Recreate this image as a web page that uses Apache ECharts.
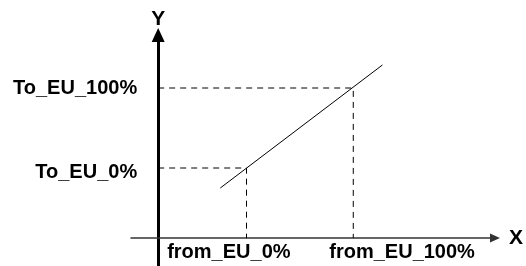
<!DOCTYPE html>
<html>
<head>
<meta charset="utf-8">
<script src="https://cdn.jsdelivr.net/npm/echarts@6/dist/echarts.min.js"></script>
<style>
html,body{margin:0;padding:0;background:#fff;}
#c{width:526px;height:266px;}
</style>
</head>
<body>
<div id="c"></div>
<script>
// Schematic values (axis crossing is the origin)
const xTickNames = ['from_EU_0%', 'from_EU_100%'];
const xTickValues = [91, 201];
const yTickNames = ['To_EU_0%', 'To_EU_100%'];
const yTickValues = [70, 150];
const mapLineX = [64, 231];
const mapLineY = [50, 173];
const xRange = [-28, 347];
const yRange = [-28, 203];

const FONT = "'Liberation Sans', Arial, sans-serif";

const chart = echarts.init(document.getElementById('c'), null, {renderer: 'canvas'});

const guide0 = [[0, yTickValues[0]], [xTickValues[0], yTickValues[0]], [xTickValues[0], 0]];
const guide100 = [[0, yTickValues[1]], [xTickValues[1], yTickValues[1]], [xTickValues[1], 0]];
const mapLine = mapLineX.map((x, i) => [x, mapLineY[i]]);

const dashStyle = {color: '#000', width: 1, type: [6, 5]};

chart.setOption({
  animation: false,
  backgroundColor: '#fff',
  grid: {left: 131, right: 20, top: 35, bottom: 0, containLabel: false},
  xAxis: {
    type: 'value', min: xRange[0], max: xRange[1],
    name: 'X', nameLocation: 'end', nameGap: 14,
    nameTextStyle: {fontFamily: FONT, fontWeight: 'bold', fontSize: 21, color: '#000', padding: [0, 0, 8, 0]},
    axisLine: {show: true, onZero: true, symbol: ['none', 'triangle'], symbolSize: [9, 10], symbolOffset: [0, 0],
      lineStyle: {color: '#333', width: 1.5}},
    axisTick: {show: false}, axisLabel: {show: false}, splitLine: {show: false}
  },
  yAxis: {
    type: 'value', min: yRange[0], max: yRange[1],
    name: 'Y', nameLocation: 'end', nameGap: 5,
    nameTextStyle: {fontFamily: FONT, fontWeight: 'bold', fontSize: 21, color: '#000', align: 'center'},
    axisLine: {show: true, onZero: true, symbol: ['none', 'triangle'], symbolSize: [13, 14], symbolOffset: [0, 0],
      lineStyle: {color: '#000', width: 3}},
    axisTick: {show: false}, axisLabel: {show: false}, splitLine: {show: false}
  },
  series: [
    {type: 'line', data: guide100, symbol: 'none', lineStyle: dashStyle, silent: true, z: 1},
    {type: 'line', data: guide0, symbol: 'none', lineStyle: dashStyle, silent: true, z: 1},
    {type: 'line', data: mapLine, symbol: 'none', lineStyle: {color: '#000', width: 1}, silent: true, z: 2}
  ]
});

const org = chart.convertToPixel({gridIndex: 0}, [0, 0]);
const txt = (text, x, y, align, vAlign) => ({
  type: 'text', x: x, y: y, silent: true,
  style: {text: text, fill: '#000', font: 'bold 20px ' + FONT, align: align, verticalAlign: vAlign}
});
const labels = [];
yTickValues.forEach((v, i) => {
  const p = chart.convertToPixel({gridIndex: 0}, [0, v]);
  labels.push(txt(yTickNames[i], p[0] - 21, p[1] + (i === 0 ? 4 : 0), 'right', 'middle'));
});
const px1 = chart.convertToPixel({gridIndex: 0}, [xTickValues[1], 0]);
labels.push(txt(xTickNames[0], org[0] + 9, org[1] + 14, 'left', 'middle'));
labels.push(txt(xTickNames[1], px1[0] - 24, org[1] + 14, 'left', 'middle'));

chart.setOption({graphic: labels});
</script>
</body>
</html>
